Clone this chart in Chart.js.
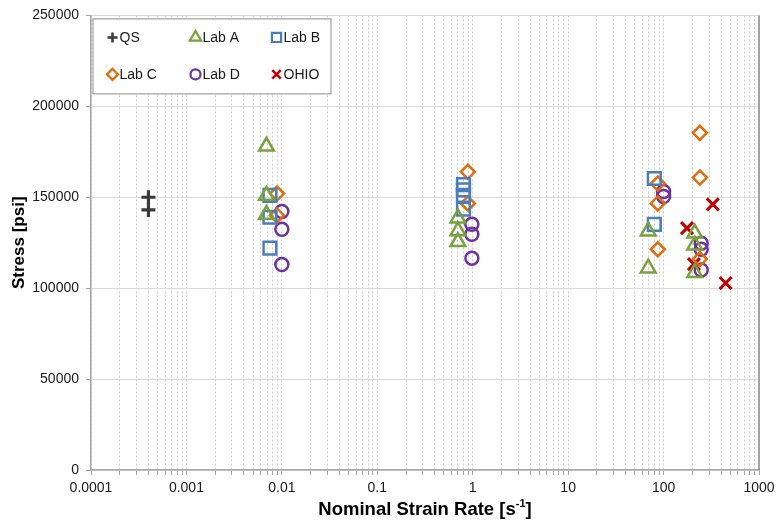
<!DOCTYPE html>
<html>
<head>
<meta charset="utf-8">
<script src="https://cdn.jsdelivr.net/npm/chart.js@4/dist/chart.umd.min.js"></script>
<style>
    html, body { margin: 0; padding: 0; background: #fff; }
    #wrap { width: 775px; height: 522px; }
</style>
</head>
<body>
<div id="wrap"><canvas id="chart" width="775" height="522"></canvas></div>
<script>
// Data
const seriesNames = ['QS', 'Lab A', 'Lab B', 'Lab C', 'Lab D', 'OHIO'];

const qsRate = [0.0004, 0.0004];
const qsStress = [150000, 143000];

const labARate = [0.0069, 0.0069, 0.0069, 0.70, 0.70, 0.70, 69, 69, 212, 212, 212];
const labAStress = [178000, 151000, 140500, 138500, 131500, 125500, 131300, 111000, 130200, 123600, 108500];

const labBRate = [0.0075, 0.0075, 0.0075, 0.80, 0.80, 0.80, 0.80, 80, 80];
const labBStress = [151000, 139000, 122000, 157000, 154000, 151000, 143500, 160300, 135100];

const labCRate = [0.0089, 0.0089, 0.89, 0.89, 87, 87, 87, 240, 240, 240];
const labCStress = [152000, 140000, 164000, 146600, 157500, 146600, 121400, 185400, 160800, 116000];

const labDRate = [0.01, 0.01, 0.01, 0.98, 0.98, 0.98, 100, 100, 248, 248, 248];
const labDStress = [142200, 132400, 113000, 135100, 129600, 116500, 153200, 150400, 124700, 121400, 110000];

const ohioRate = [176, 208, 328, 447];
const ohioStress = [133000, 113200, 146100, 102800];

const xTickLabels = ['0.0001', '0.001', '0.01', '0.1', '1', '10', '100', '1000'];
const yTickLabels = ['0', '50000', '100000', '150000', '200000', '250000'];

const FONT = '"Liberation Sans", Arial, sans-serif';

// Marker styles per series
const markers = [
    { color: '#3a3a3a', style: 'cross', radius: 7, width: 3.2, legendR: 5 },
    { color: '#79A13E', style: 'triangle', radius: 8.5, width: 2.5, legendR: 6.5 },
    { color: '#4A7EBB', style: 'rect', radius: 9, width: 2.5, legendR: 6.5 },
    { color: '#E36C0A', style: 'rectRot', radius: 7, width: 2.5, legendR: 5.5 },
    { color: '#7030A0', style: 'circle', radius: 6.5, width: 2.5, legendR: 5 },
    { color: '#C00000', style: 'crossRot', radius: 8.5, width: 3, legendR: 6 }
];

function toPoints(xs, ys) {
    return xs.map((x, i) => ({ x: x, y: ys[i] }));
}

const seriesData = [
    toPoints(qsRate, qsStress),
    toPoints(labARate, labAStress),
    toPoints(labBRate, labBStress),
    toPoints(labCRate, labCStress),
    toPoints(labDRate, labDStress),
    toPoints(ohioRate, ohioStress)
];

const datasets = seriesNames.map((name, i) => ({
    label: name,
    data: seriesData[i],
    showLine: false,
    pointStyle: markers[i].style,
    pointRadius: markers[i].radius,
    pointBorderWidth: markers[i].width,
    borderColor: markers[i].color,
    backgroundColor: 'rgba(0,0,0,0)'
}));

// Tick values: every 1..9 step of each decade (minor grid lines)
const xTickValues = [];
xTickLabels.forEach((lbl, d) => {
    const base = parseFloat(lbl);
    if (d === xTickLabels.length - 1) {
        xTickValues.push(base);
        return;
    }
    for (let m = 1; m <= 9; m++) xTickValues.push(base * m);
});

function decadeLabel(v) {
    const l = Math.log10(v);
    if (Math.abs(l - Math.round(l)) < 1e-9) return xTickLabels[Math.round(l) + 4];
    return '';
}

// Plot frame, legend box and axis titles
const decorPlugin = {
    id: 'decor',
    afterDraw(chart) {
        const ctx = chart.ctx;
        const area = chart.chartArea;

        // right border of the plot
        ctx.save();
        ctx.strokeStyle = '#8c8c8c';
        ctx.lineWidth = 1.5;
        ctx.beginPath();
        ctx.moveTo(area.right, area.top);
        ctx.lineTo(area.right, area.bottom);
        ctx.stroke();
        ctx.restore();

        // legend
        const box = { x: area.left + 1.5, y: area.top + 3, w: 238, h: 75 };
        ctx.save();
        ctx.fillStyle = '#fff';
        ctx.fillRect(box.x, box.y, box.w, box.h);
        ctx.strokeStyle = '#8c8c8c';
        ctx.lineWidth = 1;
        ctx.strokeRect(box.x + 0.5, box.y + 0.5, box.w, box.h);
        const colX = [box.x + 20, box.x + 103, box.x + 184];
        const rowY = [box.y + 19, box.y + 56];
        ctx.font = '14px ' + FONT;
        ctx.textBaseline = 'middle';
        ctx.textAlign = 'left';
        seriesNames.forEach((name, i) => {
            const cx = colX[i % 3];
            const cy = rowY[Math.floor(i / 3)];
            const m = markers[i];
            ctx.strokeStyle = m.color;
            ctx.fillStyle = 'rgba(0,0,0,0)';
            ctx.lineWidth = m.style.indexOf('cross') === 0 ? 2.5 : 2.2;
            Chart.helpers.drawPoint(ctx, {
                pointStyle: m.style,
                radius: m.legendR,
                rotation: 0,
                borderWidth: ctx.lineWidth
            }, cx, cy);
            ctx.fillStyle = '#1a1a1a';
            ctx.fillText(name, cx + 7, cy + 1);
        });
        ctx.restore();

        // y title
        ctx.save();
        ctx.fillStyle = '#000';
        ctx.font = 'bold 17px ' + FONT;
        ctx.translate(19, (area.top + area.bottom) / 2);
        ctx.rotate(-Math.PI / 2);
        ctx.textAlign = 'center';
        ctx.textBaseline = 'middle';
        ctx.fillText('Stress [psi]', 0, 0);
        ctx.restore();

        // x title with superscript
        ctx.save();
        ctx.fillStyle = '#000';
        ctx.textBaseline = 'alphabetic';
        const main = 'Nominal Strain Rate [s';
        const sup = '-1';
        const end = ']';
        const big = 'bold 18.5px ' + FONT;
        const small = 'bold 11px ' + FONT;
        ctx.font = big;
        const wMain = ctx.measureText(main).width;
        const wEnd = ctx.measureText(end).width;
        ctx.font = small;
        const wSup = ctx.measureText(sup).width;
        const total = wMain + wSup + wEnd;
        const x0 = 425 - total / 2;
        const base = 515;
        ctx.font = big;
        ctx.fillText(main, x0, base);
        ctx.font = small;
        ctx.fillText(sup, x0 + wMain, base - 8);
        ctx.font = big;
        ctx.fillText(end, x0 + wMain + wSup, base);
        ctx.restore();
    }
};

new Chart(document.getElementById('chart'), {
    type: 'scatter',
    data: { datasets: datasets },
    options: {
        responsive: false,
        animation: false,
        events: [],
        layout: { padding: { left: 0, right: 16, top: 15, bottom: 0 } },
        plugins: {
            legend: { display: false },
            tooltip: { enabled: false }
        },
        scales: {
            x: {
                type: 'logarithmic',
                min: 0.0001,
                max: 1000,
                afterBuildTicks(scale) {
                    scale.ticks = xTickValues.map(v => ({ value: v }));
                },
                afterFit(scale) {
                    scale.height = 52;
                    scale.paddingLeft = 0;
                    scale.paddingRight = 0;
                },
                ticks: {
                    autoSkip: false,
                    maxRotation: 0,
                    padding: 5,
                    color: '#1a1a1a',
                    font: { family: FONT, size: 14 },
                    callback: (v) => decadeLabel(v)
                },
                grid: {
                    color: '#cdcdcd',
                    tickLength: 5,
                    tickColor: '#a6a6a6'
                },
                border: { color: '#a6a6a6', width: 1.5, dash: [2, 2] }
            },
            y: {
                min: 0,
                max: 250000,
                afterBuildTicks(scale) {
                    scale.ticks = yTickLabels.map(v => ({ value: Number(v) }));
                },
                afterFit(scale) {
                    scale.width = 91;
                },
                ticks: {
                    padding: 7,
                    color: '#1a1a1a',
                    font: { family: FONT, size: 14 },
                    callback: (v) => String(v)
                },
                grid: {
                    color: '#d9d9d9',
                    tickLength: 5,
                    tickColor: '#a6a6a6'
                },
                border: { color: '#a6a6a6', width: 1.5 }
            }
        }
    },
    plugins: [decorPlugin]
});
</script>
</body>
</html>
